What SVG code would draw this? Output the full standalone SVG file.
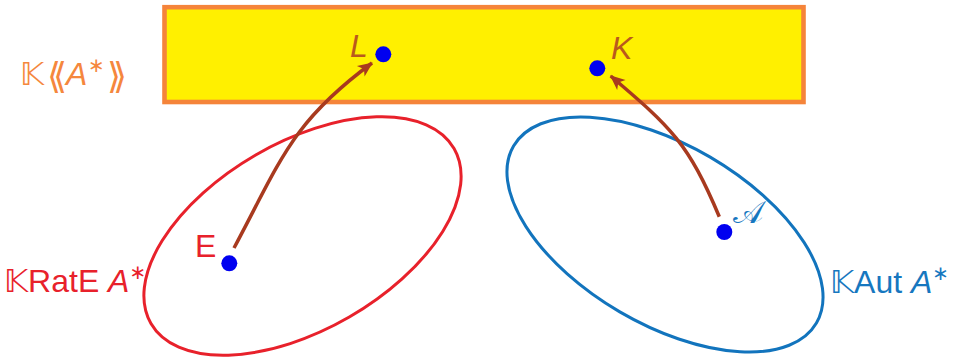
<svg xmlns="http://www.w3.org/2000/svg" width="956" height="358" viewBox="0 0 956 358">
<style>
.t{font-family:"Liberation Sans","DejaVu Sans",sans-serif;font-size:32px}
.m{font-family:"DejaVu Sans","Liberation Sans",sans-serif}
.br{font-family:"DejaVu Sans",sans-serif;font-size:36px}
.it{font-style:italic}
.dot{fill:#0000f0}
.arr{fill:none;stroke:#a83a1f;stroke-width:3.5;marker-end:url(#ah)}
</style>
<defs>
<marker id="ah" markerUnits="userSpaceOnUse" viewBox="-16 -8 18 16" markerWidth="18" markerHeight="16" refX="0" refY="0" orient="auto">
<path d="M1,0 L-14,-6.5 L-10,0 L-14,6.5 Z" fill="#a83a1f"/>
</marker>
</defs>
<g id="series">
<rect x="164.5" y="7.2" width="639" height="94.8" fill="#fff000" stroke="#f5843a" stroke-width="4.6"/>
<text class="t" y="85" fill="#f5873d"><tspan class="m" x="20">𝕂</tspan><tspan class="br" x="47" y="88">⟪</tspan><tspan class="it" x="66" y="85">A</tspan><tspan font-size="20" x="88" y="72">∗</tspan><tspan class="br" x="107" y="88">⟫</tspan></text>
</g>
<g id="rat">
<ellipse cx="302.5" cy="236" rx="175" ry="93.6" transform="rotate(-30 302.5 236)" fill="none" stroke="#e8212b" stroke-width="3"/>
<text class="t" x="4" y="292" fill="#e8212b"><tspan class="m">𝕂</tspan>RatE <tspan class="it">A</tspan><tspan font-size="20" dy="-13">∗</tspan></text>
</g>
<g id="aut">
<ellipse cx="665" cy="234.5" rx="175.4" ry="89.6" transform="rotate(30.3 665 234.5)" fill="none" stroke="#1274bd" stroke-width="3"/>
<text class="t" x="830" y="293" fill="#1677bf"><tspan class="m">𝕂</tspan>Aut <tspan class="it">A</tspan><tspan font-size="20" dy="-13">∗</tspan></text>
</g>
<g id="L"><circle class="dot" cx="383.3" cy="54.3" r="8"/><text class="t it" x="350" y="57" fill="#b9591d" font-size="33">L</text></g>
<g id="K"><circle class="dot" cx="597.3" cy="68.3" r="8"/><text class="t it" x="611" y="59" fill="#b9591d" font-size="33">K</text></g>
<g id="E"><circle class="dot" cx="229.3" cy="263.3" r="8"/><text class="t" x="195" y="257" fill="#e8212b" font-size="33">E</text></g>
<g id="A"><circle class="dot" cx="724.3" cy="232" r="8"/><text class="t" x="733" y="223" fill="#1677bf" font-family="DejaVu Serif" font-size="40">𝒜</text></g>
<g id="connectors">
<path class="arr" d="M234,248 C281,160 291.5,122.3 372,63"/>
<path class="arr" d="M719.3,216.7 C688.2,143 671.6,127.8 610.7,76"/>
</g>
</svg>
